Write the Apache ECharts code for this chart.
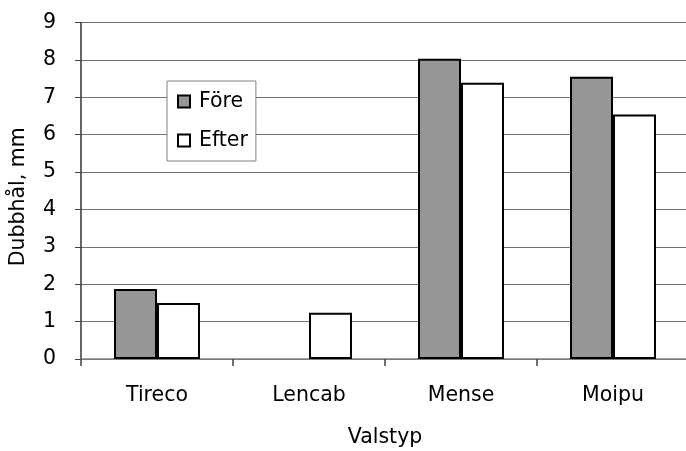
<!DOCTYPE html>
<html><head><meta charset="utf-8">
<script src="https://cdn.jsdelivr.net/npm/echarts@6/dist/echarts.min.js"></script>
<style>html,body{margin:0;padding:0;background:#fff}#c{width:686px;height:451px}</style>
</head><body><div id="c"></div>
<script>
const categories = ['Tireco', 'Lencab', 'Mense', 'Moipu'];
const foreValues = [1.87, null, 8.03, 7.55];
const efterValues = [1.5, 1.24, 7.39, 6.54];
const seriesNames = ['Före', 'Efter'];
const yTicks = [0, 9, 1];
const font = 'DejaVu Sans';
const fs = 20.5;
const chart = echarts.init(document.getElementById('c'));
chart.setOption({
  animation: false,
  textStyle: { fontFamily: font },
  grid: { left: 81, top: 22.6, width: 608, height: 336.4, containLabel: false, outerBoundsMode: 'none' },
  legend: {
    orient: 'vertical', left: 167, top: 81,
    padding: [10, 8, 10, 10],
    itemGap: 18,
    backgroundColor: '#fff', borderColor: '#808080', borderWidth: 1,
    itemWidth: 12, itemHeight: 12,
    textStyle: { fontFamily: font, fontSize: fs, color: '#000', padding: [0, 0, 0, 4] },
    data: [
      { name: seriesNames[0], icon: 'rect', itemStyle: { color: '#969696', borderColor: '#000', borderWidth: 2 } },
      { name: seriesNames[1], icon: 'rect', itemStyle: { color: '#fff', borderColor: '#000', borderWidth: 2 } }
    ]
  },
  xAxis: {
    type: 'category', data: categories,
    name: 'Valstyp', nameLocation: 'middle', nameGap: 68,
    nameTextStyle: { fontFamily: font, fontSize: fs, color: '#000' },
    axisLine: { lineStyle: { color: '#808080', width: 1.5 } },
    axisTick: { show: true, length: 7, lineStyle: { color: '#444', width: 1.5 } },
    axisLabel: { fontFamily: font, fontSize: fs, color: '#000', margin: 26 },
    splitLine: { show: false }
  },
  yAxis: {
    type: 'value', min: yTicks[0], max: yTicks[1], interval: yTicks[2],
    name: 'Dubbhål, mm', nameLocation: 'middle', nameGap: 52, nameRotate: 90,
    nameTextStyle: { fontFamily: font, fontSize: fs, color: '#000', padding: [0, 12, 0, 0] },
    axisLine: { show: true, lineStyle: { color: '#333', width: 1.5 } },
    axisTick: { show: true, length: 6, lineStyle: { color: '#444', width: 1 } },
    axisLabel: { fontFamily: font, fontSize: fs, color: '#000', margin: 25 },
    splitLine: { show: true, lineStyle: { color: '#707070', width: 1.2 } }
  },
  series: [
    { name: seriesNames[0], type: 'bar', data: foreValues, barWidth: 43, barGap: '0%',
      itemStyle: { color: '#969696', borderColor: '#000', borderWidth: 2 } },
    { name: seriesNames[1], type: 'bar', data: efterValues, barWidth: 43, barGap: '0%',
      itemStyle: { color: '#fff', borderColor: '#000', borderWidth: 2 } }
  ]
});
</script></body></html>
